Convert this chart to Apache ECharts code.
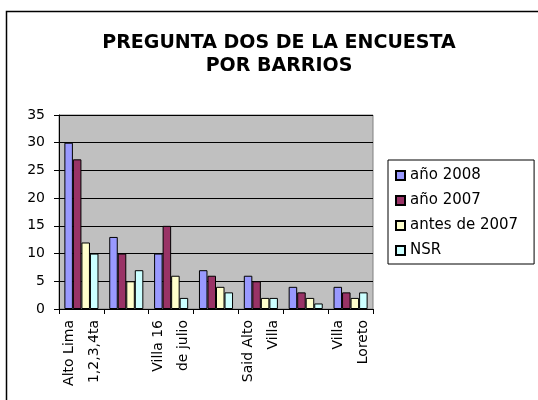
<!DOCTYPE html>
<html>
<head>
<meta charset="utf-8">
<title>Pregunta dos de la encuesta</title>
<script src="https://cdn.jsdelivr.net/npm/echarts@6/dist/echarts.min.js"></script>
<style>
    html, body { margin: 0; padding: 0; background: #fff; }
    #main { width: 538px; height: 400px; }
</style>
</head>
<body>
<div id="main"></div>
<script>
//categorias (barrios) - las ocultas no se leen en la imagen
var barrios = ['Alto Lima\n1,2,3,4ta', '', 'Villa 16\nde julio', '', 'Said Alto\nVilla', '', 'Villa\nLoreto'];

//series
var anio_2008 = [30, 13, 10, 7, 6, 4, 4];
var anio_2007 = [27, 10, 15, 6, 5, 3, 3];
var antes_2007 = [12, 5, 6, 4, 2, 2, 2];
var nsr = [10, 7, 2, 3, 2, 1, 3];

var nombres = ['año 2008', 'año 2007', 'antes de 2007', 'NSR'];
var colores = ['#9999FF', '#993366', '#FFFFCC', '#CCFFFF'];

//eje y
var y_min = 0, y_max = 35, y_paso = 5;

var fuente = 'DejaVu Sans';

function serie(i, datos) {
    return {
        name: nombres[i],
        type: 'bar',
        data: datos,
        barGap: '0%',
        barCategoryGap: '24%',
        itemStyle: {
            color: colores[i],
            borderColor: '#000',
            borderWidth: 1
        }
    };
}

var chart = echarts.init(document.getElementById('main'), null, {renderer: 'canvas'});

var option = {
    animation: false,
    backgroundColor: '#fff',
    textStyle: { fontFamily: fuente, color: '#000' },
    title: {
        text: 'PREGUNTA DOS DE LA ENCUESTA\nPOR BARRIOS',
        left: 274,
        top: 27,
        textAlign: 'center',
        textStyle: {
            fontFamily: fuente,
            fontWeight: 'bold',
            fontSize: 19,
            lineHeight: 23,
            color: '#000'
        }
    },
    legend: {
        orient: 'vertical',
        left: 388,
        top: 160,
        data: nombres,
        itemWidth: 9,
        itemHeight: 9,
        itemGap: 10,
        icon: 'rect',
        padding: [8, 16, 6, 7],
        borderColor: '#000',
        borderWidth: 1,
        backgroundColor: '#fff',
        textStyle: {
            fontFamily: fuente,
            fontSize: 15,
            lineHeight: 15,
            color: '#000'
        }
    },
    grid: {
        left: 59,
        right: 165,
        top: 115,
        bottom: 91,
        show: true,
        backgroundColor: '#C0C0C0',
        borderColor: '#808080',
        borderWidth: 1
    },
    xAxis: {
        type: 'category',
        data: barrios,
        axisLine: { lineStyle: { color: '#000', width: 1 } },
        axisTick: { show: true, length: 5, lineStyle: { color: '#000' } },
        axisLabel: {
            interval: 0,
            rotate: 90,
            margin: 11,
            fontFamily: fuente,
            fontSize: 14,
            lineHeight: 25,
            color: '#000'
        }
    },
    yAxis: {
        type: 'value',
        min: y_min,
        max: y_max,
        interval: y_paso,
        axisLine: { show: true, lineStyle: { color: '#000', width: 1 } },
        axisTick: { show: true, length: 5, lineStyle: { color: '#000' } },
        axisLabel: {
            margin: 14,
            fontFamily: fuente,
            fontSize: 14,
            color: '#000'
        },
        splitLine: { show: true, lineStyle: { color: '#000', width: 1 } }
    },
    //marco del grafico
    graphic: [{
        type: 'rect',
        left: 4,
        top: 9,
        shape: { width: 600, height: 500 },
        style: { fill: 'none', stroke: '#000', lineWidth: 1.5 },
        silent: true
    }],
    series: [
        serie(0, anio_2008),
        serie(1, anio_2007),
        serie(2, antes_2007),
        serie(3, nsr)
    ]
};

chart.setOption(option);
</script>
</body>
</html>
